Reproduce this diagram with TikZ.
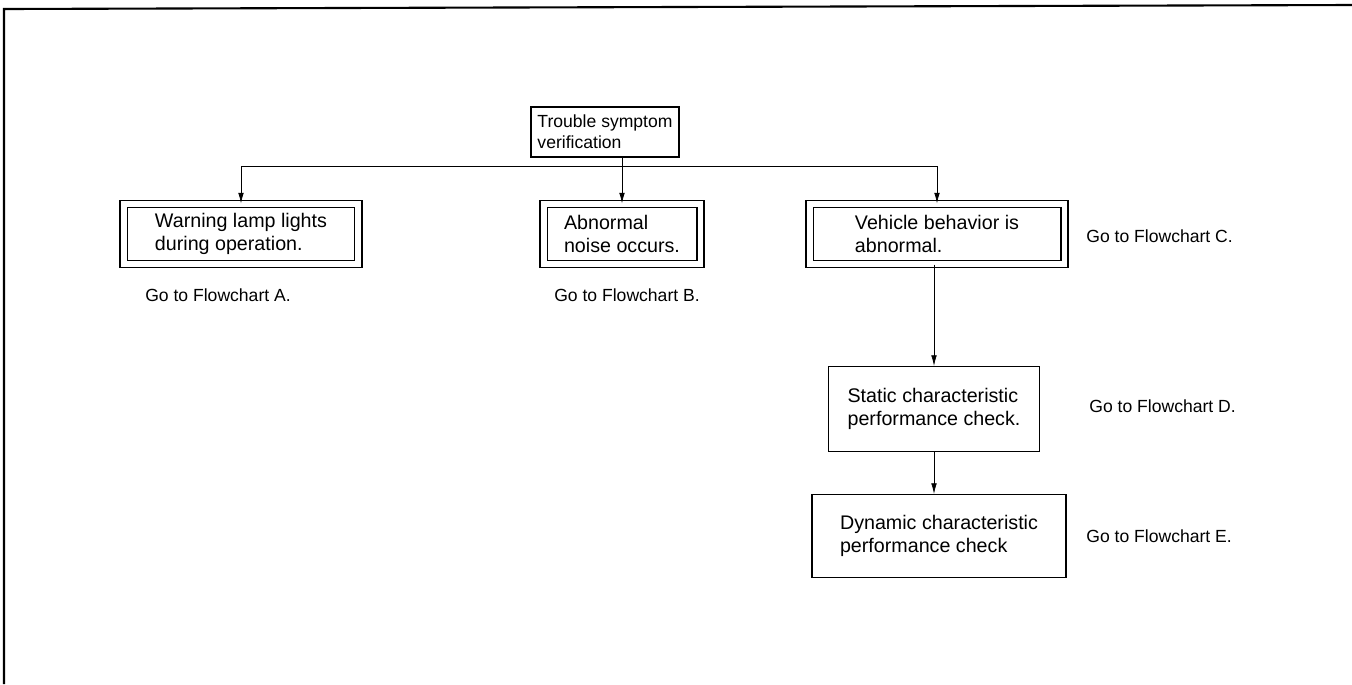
\documentclass[tikz,border=0pt]{standalone}
\usepackage{fontspec}
\setmainfont{Liberation Sans}
\usetikzlibrary{positioning,arrows.meta,calc}

\begin{document}
\begin{tikzpicture}[x=0.02cm,y=-0.02cm,>={Latex[length=6pt,width=3.2pt]},
  font=\fontsize{10}{12.5}\selectfont,
  box/.style={draw,line width=0.7pt,align=left,inner sep=0pt,font=\fontsize{11.2}{13}\selectfont},
  dbox/.style={box,double,double distance=3.4pt},
  goto/.style={inner sep=0pt}]
  \useasboundingbox (0,0) rectangle (1352,684);
  % page edge
  \draw[line width=1.2pt] (4,684) -- (4,9) -- (1352,5);
  \node[box,font=\fontsize{10}{12}\selectfont,minimum width=2.96cm,minimum height=1cm](trbl) at (605,132){Trouble symptom\\verification};
  \node[dbox,minimum width=4.7cm,minimum height=1.2cm](warn) at (241,234){Warning lamp lights\\during operation.};
  \node[dbox,minimum width=3.14cm,minimum height=1.2cm](noise) at (622,234){Abnormal\\noise occurs.};
  \node[dbox,minimum width=5.1cm,minimum height=1.2cm](vehc) at (937,234){Vehicle behavior is\\abnormal.};
  \node[box,minimum width=4.22cm,minimum height=1.7cm](stat) at (934,409){Static characteristic\\performance check.};
  \node[box,minimum width=5.08cm,minimum height=1.66cm](dyn) at (939,536){Dynamic characteristic\\performance check};
  \node[goto](gotoA) at (218,295){Go to Flowchart A.};
  \node[goto](gotoB) at (627,295){Go to Flowchart B.};
  \node[goto,anchor=west](gotoC) at (1086,236){Go to Flowchart C.};
  \node[goto,anchor=west](gotoD) at (1089,406){Go to Flowchart D.};
  \node[goto,anchor=west](gotoE) at (1086,536){Go to Flowchart E.};
  % branches
  \coordinate(bus) at (622,166);
  \draw (warn.north |- bus) -- (vehc.north |- bus);
  \draw[->] (trbl.south -| noise) -- (noise);
  \draw[->] (warn.north |- bus) -- (warn);
  \draw[->] (vehc.north |- bus) -- (vehc);
  \draw[->] (vehc.south -| stat) -- (stat);
  \draw[->] (stat) -- (dyn.north -| stat);
\end{tikzpicture}
\end{document}
